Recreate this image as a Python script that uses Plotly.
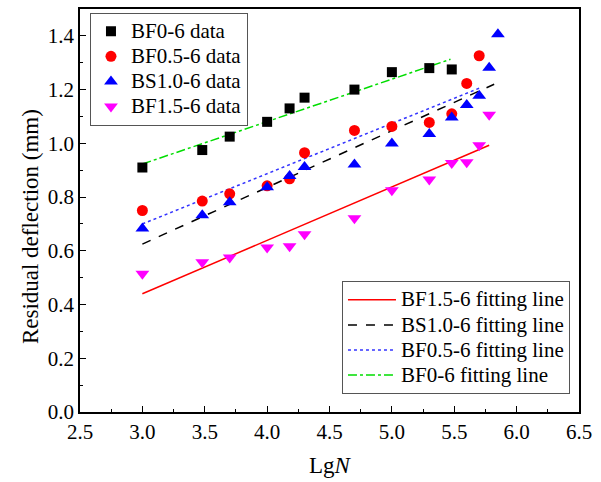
import plotly.graph_objects as go

# ---- data ----
bf0_x = [3.0, 3.48, 3.7, 4.0, 4.18, 4.3, 4.7, 5.0, 5.3, 5.48]
bf0_y = [0.91, 0.975, 1.025, 1.08, 1.13, 1.17, 1.20, 1.265, 1.28, 1.275]

bf05_x = [3.0, 3.48, 3.7, 4.0, 4.18, 4.3, 4.7, 5.0, 5.3, 5.48, 5.6, 5.7]
bf05_y = [0.75, 0.785, 0.812, 0.842, 0.868, 0.965, 1.048, 1.063, 1.078, 1.11, 1.223, 1.326]

bs10_x = [3.0, 3.48, 3.7, 4.0, 4.18, 4.3, 4.7, 5.0, 5.3, 5.48, 5.6, 5.7, 5.78, 5.85]
bs10_y = [0.683, 0.732, 0.781, 0.837, 0.878, 0.912, 0.921, 0.999, 1.035, 1.096, 1.143, 1.177, 1.281, 1.406]

bf15_x = [3.0, 3.48, 3.7, 4.0, 4.18, 4.3, 4.7, 5.0, 5.3, 5.48, 5.6, 5.7, 5.78]
bf15_y = [0.515, 0.557, 0.575, 0.612, 0.617, 0.662, 0.721, 0.825, 0.865, 0.927, 0.93, 0.993, 1.106]

# fitting line end points
fit_bf15_x = [3.0, 5.78]
fit_bf15_y = [0.44, 0.993]
fit_bs10_x = [3.0, 5.82]
fit_bs10_y = [0.625, 1.22]
fit_bf05_x = [3.0, 5.70]
fit_bf05_y = [0.70, 1.205]
fit_bf0_x = [3.0, 5.47]
fit_bf0_y = [0.923, 1.313]

FONT = "Liberation Serif, Times New Roman, serif"


def big(s):
    return '<span style="font-size:21px">' + s + '</span>'


fig = go.Figure()

# fitting lines (second legend)
fig.add_trace(go.Scatter(x=fit_bf15_x, y=fit_bf15_y, mode="lines", name=big("BF1.5-6 fitting line"),
                         line=dict(color="#ff0000", width=1.5, dash="solid"), legend="legend2"))
fig.add_trace(go.Scatter(x=fit_bs10_x, y=fit_bs10_y, mode="lines", name=big("BS1.0-6 fitting line"),
                         line=dict(color="#000000", width=1.5, dash="dash"), legend="legend2"))
fig.add_trace(go.Scatter(x=fit_bf05_x, y=fit_bf05_y, mode="lines", name=big("BF0.5-6 fitting line"),
                         line=dict(color="#3333ff", width=1.5, dash="dot"), legend="legend2"))
fig.add_trace(go.Scatter(x=fit_bf0_x, y=fit_bf0_y, mode="lines", name=big("BF0-6 fitting line"),
                         line=dict(color="#00dd00", width=1.5, dash="dashdot"), legend="legend2"))

# data points (first legend)
fig.add_trace(go.Scatter(x=bf0_x, y=bf0_y, mode="markers", name=big("BF0-6 data"),
                         marker=dict(symbol="square", size=10, color="#000000"), legend="legend"))
fig.add_trace(go.Scatter(x=bf05_x, y=bf05_y, mode="markers", name=big("BF0.5-6 data"),
                         marker=dict(symbol="circle", size=11, color="#ff0000"), legend="legend"))
fig.add_trace(go.Scatter(x=bs10_x, y=bs10_y, mode="markers", name=big("BS1.0-6 data"),
                         marker=dict(symbol="triangle-up", size=12, color="#0000ff"), legend="legend"))
fig.add_trace(go.Scatter(x=bf15_x, y=bf15_y, mode="markers", name=big("BF1.5-6 data"),
                         marker=dict(symbol="triangle-down", size=12, color="#ff00ff"), legend="legend"))

axis_common = dict(
    showline=True, linecolor="#000000", linewidth=1.5, mirror=True,
    ticks="inside", ticklen=6, tickwidth=1, tickcolor="#000000",
    showgrid=False, zeroline=False,
    tickfont=dict(family=FONT, size=21, color="#000000"),
)

fig.update_layout(
    width=601, height=482,
    margin=dict(l=80, r=22, t=7, b=70),
    paper_bgcolor="white", plot_bgcolor="white",
    font=dict(family=FONT, color="#000000"),
    xaxis=dict(range=[2.5, 6.5], dtick=0.5, tickformat=".1f",
               minor=dict(dtick=0.25, ticks="inside", ticklen=3, tickcolor="#000000"),
               title=dict(text="Lg<i>N</i>", font=dict(family=FONT, size=23), standoff=14),
               **axis_common),
    yaxis=dict(range=[0, 1.5], dtick=0.2, tickformat=".1f",
               minor=dict(dtick=0.1, ticks="inside", ticklen=3, tickcolor="#000000"),
               **axis_common),
    annotations=[dict(text="Residual deflection (mm)", textangle=-90,
                      xref="paper", yref="paper", x=-0.1, y=0.459,
                      xanchor="center", yanchor="middle", showarrow=False,
                      font=dict(family=FONT, size=23, color="#000000"))],
    legend=dict(x=0.02, y=0.991, xanchor="left", yanchor="top",
                bordercolor="#555555", borderwidth=1, bgcolor="white",
                font=dict(family=FONT, size=17), tracegroupgap=0),
    legend2=dict(x=0.525, y=0.044, xanchor="left", yanchor="bottom",
                 bordercolor="#555555", borderwidth=1, bgcolor="white",
                 itemwidth=48,
                 font=dict(family=FONT, size=17), tracegroupgap=0),
)

fig.write_html("out.html")
